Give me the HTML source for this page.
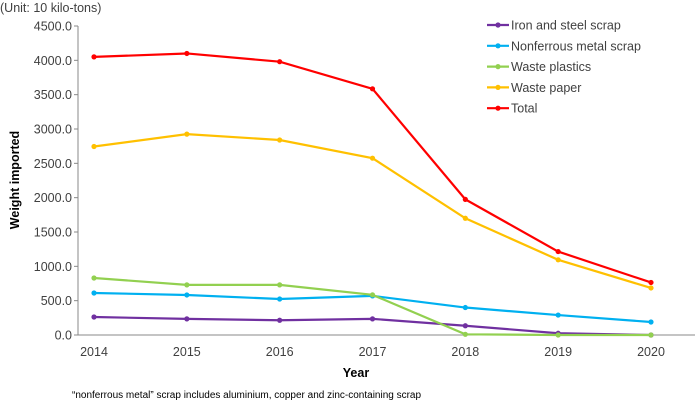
<!DOCTYPE html>
<html><head><meta charset="utf-8"><style>
body{margin:0;background:#fff;}
svg{display:block;font-family:"Liberation Sans",sans-serif;}
</style></head><body>
<svg id="chart" width="696" height="402">
<text x="0" y="12" font-size="12.5" fill="#404040">(Unit: 10 kilo-tons)</text>
<text transform="translate(19,180) rotate(-90)" text-anchor="middle" font-size="12.5" font-weight="bold" fill="#000">Weight imported</text>
<text x="356" y="377" text-anchor="middle" font-size="12.5" font-weight="bold" fill="#000">Year</text>
<text x="72" y="398" font-size="10" fill="#000">“nonferrous metal” scrap includes aluminium, copper and zinc-containing scrap</text>
<g id="axes"></g><g id="series"></g><g id="legend"></g>
</svg>
<script>
const years=[2014,2015,2016,2017,2018,2019,2020];
const yTicks=[0,500,1000,1500,2000,2500,3000,3500,4000,4500];
const seriesNames=["Iron and steel scrap","Nonferrous metal scrap","Waste plastics","Waste paper","Total"];
const ironSteel=[262,235,215,235,135,25,0];
const nonferrous=[612,583,524,570,400,290,189];
const plastics=[830,730,730,585,10,0,0];
const paper=[2745,2925,2840,2575,1700,1095,685];
const total=[4050,4100,3980,3585,1975,1215,765];
const colors=["#7030a0","#00b0f0","#92d050","#ffc000","#ff0000"];
const allSeries=[ironSteel,nonferrous,plastics,paper,total];
const NS="http://www.w3.org/2000/svg";
const x0=78,x1=695,yBase=335,yTop=26;
const xs=i=>94+i*(651-94)/(years.length-1);
const ys=v=>yBase-(v/4500)*(yBase-yTop);
function mk(t,a,p){const e=document.createElementNS(NS,t);for(const k in a)e.setAttribute(k,a[k]);p.appendChild(e);return e;}
const ax=document.getElementById('axes');
let l=mk('line',{x1:x0,y1:yTop,x2:x0,y2:yBase,stroke:'#888','stroke-width':1},ax);


l=mk('line',{x1:x0,y1:yBase,x2:x1,y2:yBase,stroke:'#888','stroke-width':1},ax);


yTicks.forEach(v=>{
 mk('line',{x1:x0-4,y1:ys(v),x2:x0,y2:ys(v),stroke:'#888'},ax);
 const t=mk('text',{x:x0-6,y:ys(v)+4.5,'text-anchor':'end','font-size':'12.5',fill:'#404040'},ax);
 t.textContent=v.toFixed(1);
 
 
});
years.forEach((y,i)=>{
 const t=mk('text',{x:xs(i),y:356,'text-anchor':'middle','font-size':'12.5',fill:'#404040'},ax);
 t.textContent=y;
 
 
});
const sg=document.getElementById('series');
allSeries.forEach((d,s)=>{
 const g=mk('g',{},sg);
 
 
 mk('polyline',{points:d.map((v,i)=>xs(i)+','+ys(v)).join(' '),fill:'none',stroke:colors[s],'stroke-width':2.2},g);
 d.forEach((v,i)=>{const c=mk('circle',{cx:xs(i),cy:ys(v),r:2.6,fill:colors[s]},g);
  
  });
});
const lg=document.getElementById('legend');
seriesNames.forEach((n,s)=>{
 const y=25+s*20.8;
 const g=mk('g',{},lg);
 
 
 mk('line',{x1:487,y1:y,x2:509,y2:y,stroke:colors[s],'stroke-width':2.2},g);
 mk('circle',{cx:498,cy:y,r:2.6,fill:colors[s]},g);
 const t=mk('text',{x:511,y:y+4.5,'font-size':'12.5',fill:'#404040'},g);
 t.textContent=n;
});
</script>
</body></html>
